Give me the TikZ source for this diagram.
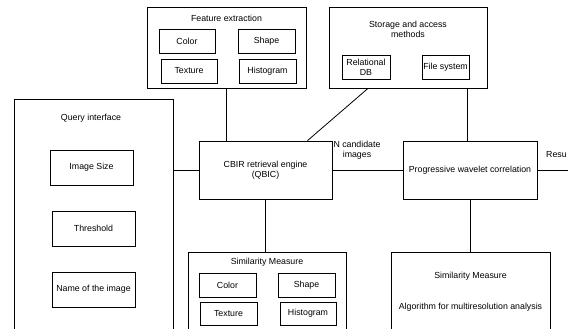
\documentclass[tikz,border=0pt]{standalone}
\usepackage{fontspec}
\setmainfont{Liberation Sans}
\usepackage{tikz}

\begin{document}
\begin{tikzpicture}[x=1pt,y=-1pt,
    caja/.style={draw,line width=0.8pt,inner sep=0pt,minimum width=56pt,minimum height=24pt,align=center},
    marco/.style={draw,line width=0.8pt,inner sep=0pt},
    enlace/.style={line width=0.8pt},
    every node/.append style={font=\fontsize{8.8}{10}\selectfont}]
            \useasboundingbox (0,0) rectangle (568,329);
            \clip (0,0) rectangle (568,329);

            % Extraccion de caracteristicas
            \node[marco,minimum width=159pt,minimum height=81pt] (fe) at (226.5,47.5) {};
            \node (fetit) at (226.5,18) {Feature extraction};
            \node[caja] (fecol) at (187,41.5) {Color};
            \node[caja,minimum width=57pt] (feshp) at (266.5,41.5) {Shape};
            \node[caja] (fetex) at (189,71) {Texture};
            \node[caja,minimum width=57pt] (fehis) at (267.5,71) {Histogram};

            % Almacenamiento
            \node[marco,minimum width=158pt,minimum height=81pt] (sto) at (408,47.5) {};
            \node[align=center] (stotit) at (408,29) {Storage and access\\methods};
            \node[caja,minimum width=48pt] (stodb) at (366,67) {Relational\\DB};
            \node[caja,minimum width=47pt] (stofs) at (445.5,67) {File system};

            % Interfaz de consulta
            \node[marco,minimum width=159pt,minimum height=246pt] (qi) at (93.5,222) {};
            \node (qitit) at (91,118) {Query interface};
            \node[caja,minimum width=83pt,minimum height=35pt] (qisize) at (91.5,167.5) {Image Size};
            \node[caja,minimum width=83pt,minimum height=35pt] (qithr) at (93.5,228.5) {Threshold};
            \node[caja,minimum width=83pt,minimum height=35pt] (qinam) at (93.5,289.5) {Name of the image};

            % Motores
            \node[caja,minimum width=133pt,minimum height=58pt] (cbir) at (265.5,170) {CBIR retrieval engine\\(QBIC)};
            \node[caja,minimum width=134pt,minimum height=58pt] (pwc) at (470,170) {Progressive wavelet correlation};
            \node[align=center] (ncand) at (357,150) {N candidate\\images};
            \node[anchor=west,inner sep=1pt] (res) at (545,155) {Resu};
            \coordinate (resfin) at (575,170);

            % Medidas de similitud
            \node[marco,minimum width=158pt,minimum height=96pt] (smm) at (267,300) {};
            \node (smmtit) at (267,262) {Similarity Measure};
            \node[caja,minimum width=57pt] (smmcol) at (227.5,285) {Color};
            \node[caja,minimum width=57pt] (smmshp) at (306.5,285) {Shape};
            \node[caja,minimum width=57pt,minimum height=23pt] (smmtex) at (228.5,313.5) {Texture};
            \node[caja,minimum height=23pt] (smmhis) at (308,313.5) {Histogram};

            \node[marco,minimum width=159pt,minimum height=96pt] (smr) at (470.5,300) {};
            \node (smrtit) at (470.5,276) {Similarity Measure};
            \node (smralg) at (470.5,307) {Algorithm for multiresolution analysis};

            % Conexiones
            \draw[enlace] (fe.south) -- (fe.south |- cbir.north);
            \draw[enlace] ([xshift=-40pt]sto.south) -- ([xshift=42pt]cbir.north);
            \draw[enlace] ([xshift=-3pt]pwc.north) -- ([xshift=-3pt]pwc.north |- sto.south);
            \draw[enlace] (qi.east |- cbir.west) -- (cbir.west);
            \draw[enlace] (cbir.east) -- (pwc.west);
            \draw[enlace] (pwc.east) -- (resfin);
            \draw[enlace] (cbir.south) -- (cbir.south |- smm.north);
            \draw[enlace] (pwc.south) -- (pwc.south |- smr.north);
        \end{tikzpicture}
\end{document}
